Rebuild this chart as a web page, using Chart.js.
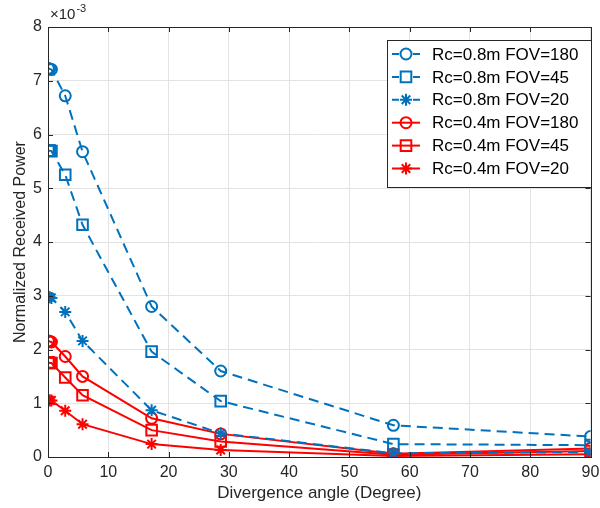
<!DOCTYPE html>
<html>
<head>
<meta charset="utf-8">
<script src="https://cdn.jsdelivr.net/npm/chart.js@4"></script>
<style>
  html, body { margin: 0; padding: 0; background: #fff; }
  #wrap { width: 600px; height: 508px; position: relative; }
</style>
</head>
<body>
<div id="wrap"><canvas id="chart" width="600" height="508"></canvas></div>
<script>
// Data (values in units of 1e-3)
const angles = [0.06, 0.29, 0.57, 2.86, 5.73, 17.19, 28.65, 57.3, 90];
const seriesNames = ['Rc=0.8m FOV=180', 'Rc=0.8m FOV=45', 'Rc=0.8m FOV=20',
                     'Rc=0.4m FOV=180', 'Rc=0.4m FOV=45', 'Rc=0.4m FOV=20'];
const rc08fov180 = [7.23, 7.22, 7.21, 6.72, 5.68, 2.80, 1.60, 0.59, 0.38];
const rc08fov45  = [5.70, 5.70, 5.69, 5.25, 4.32, 1.96, 1.04, 0.24, 0.22];
const rc08fov20  = [2.98, 2.97, 2.96, 2.70, 2.16, 0.87, 0.44, 0.07, 0.09];
const rc04fov180 = [2.16, 2.15, 2.14, 1.87, 1.50, 0.72, 0.43, 0.06, 0.16];
const rc04fov45  = [1.76, 1.75, 1.75, 1.48, 1.15, 0.50, 0.29, 0.04, 0.11];
const rc04fov20  = [1.06, 1.05, 1.05, 0.86, 0.61, 0.24, 0.13, 0.02, 0.05];
const xTicks = [0, 10, 20, 30, 40, 50, 60, 70, 80, 90];
const yTicks = [0, 1, 2, 3, 4, 5, 6, 7, 8];
const exponent = '-3';

const BLUE = '#0072BD', RED = '#FF0000';
const FONT = '"Liberation Sans", Arial, Helvetica, sans-serif';
const sizes = { circle: 5.5, rect: 7.5, star: 6 };

function ds(label, vals, color, marker, dashed){
  return {
    label,
    data: vals.map((v, i) => ({x: angles[i], y: v})),
    borderColor: color,
    backgroundColor: 'rgba(0,0,0,0)',
    borderWidth: 2,
    borderDash: dashed ? [10, 6] : [],
    pointStyle: marker,
    pointRadius: sizes[marker],
    pointBorderWidth: 2,
    pointBorderColor: color,
    pointBackgroundColor: 'rgba(0,0,0,0)',
    tension: 0
  };
}

const datasets = [
  ds(seriesNames[0], rc08fov180, BLUE, 'circle', true),
  ds(seriesNames[1], rc08fov45,  BLUE, 'rect',   true),
  ds(seriesNames[2], rc08fov20,  BLUE, 'star',   true),
  ds(seriesNames[3], rc04fov180, RED,  'circle', false),
  ds(seriesNames[4], rc04fov45,  RED,  'rect',   false),
  ds(seriesNames[5], rc04fov20,  RED,  'star',   false)
];

// box, inner ticks, exponent and legend in MATLAB style
const matlabStyle = {
  id: 'matlabStyle',
  afterDatasetsDraw(chart){
    const {ctx, chartArea: a, scales: {x, y}} = chart;
    ctx.save();
    ctx.strokeStyle = '#262626';
    ctx.lineWidth = 1;
    ctx.beginPath();
    xTicks.forEach(t => {
      const px = Math.round(x.getPixelForValue(t)) + 0.5;
      ctx.moveTo(px, a.bottom); ctx.lineTo(px, a.bottom - 5);
      ctx.moveTo(px, a.top); ctx.lineTo(px, a.top + 5);
    });
    yTicks.forEach(t => {
      const py = Math.round(y.getPixelForValue(t)) + 0.5;
      ctx.moveTo(a.left, py); ctx.lineTo(a.left + 5, py);
      ctx.moveTo(a.right, py); ctx.lineTo(a.right - 5, py);
    });
    ctx.stroke();
    ctx.strokeRect(Math.round(a.left) + 0.5, Math.round(a.top) + 0.5,
                   Math.round(a.right - a.left), Math.round(a.bottom - a.top));

    // x10^-3
    ctx.fillStyle = '#262626';
    ctx.textBaseline = 'alphabetic';
    ctx.textAlign = 'left';
    ctx.font = '15px ' + FONT;
    ctx.fillText('\u00d710', a.left + 2, a.top - 8);
    const w = ctx.measureText('\u00d710').width;
    ctx.font = '11px ' + FONT;
    ctx.fillText(exponent, a.left + 3 + w, a.top - 15);

    // legend
    const lx = 387, ly = 40, lw = 204, lh = 147, row = 22.9;
    ctx.fillStyle = '#fff';
    ctx.fillRect(lx, ly, lw, lh);
    ctx.strokeStyle = '#262626';
    ctx.strokeRect(lx + 0.5, ly + 0.5, lw, lh);
    ctx.font = '17px ' + FONT;
    ctx.textBaseline = 'middle';
    chart.data.datasets.forEach((d, i) => {
      const cy = ly + 14 + i * row;
      ctx.strokeStyle = d.borderColor;
      ctx.lineWidth = 2;
      ctx.beginPath();
      if (d.borderDash.length) {
        ctx.moveTo(392, cy); ctx.lineTo(399, cy);
        ctx.moveTo(413, cy); ctx.lineTo(420, cy);
      } else {
        ctx.moveTo(392, cy); ctx.lineTo(420, cy);
      }
      ctx.stroke();
      ctx.fillStyle = 'rgba(0,0,0,0)';
      Chart.helpers.drawPoint(ctx, {pointStyle: d.pointStyle, radius: d.pointRadius, borderWidth: 2}, 406, cy);
      ctx.fillStyle = '#000';
      ctx.fillText(d.label, 432, cy + 1);
    });
    ctx.restore();
  }
};

new Chart(document.getElementById('chart'), {
  type: 'line',
  data: { datasets },
  plugins: [matlabStyle],
  options: {
    responsive: false,
    animation: false,
    layout: { padding: { top: 27, right: 7, left: 0, bottom: 0 } },
    plugins: { legend: { display: false }, tooltip: { enabled: false } },
    scales: {
      x: {
        type: 'linear', min: 0, max: 90,
        afterBuildTicks: s => { s.ticks = xTicks.map(v => ({value: v})); },
        afterFit: s => { s.height = 51; s.paddingLeft = 0; s.paddingRight = 0; },
        grid: { color: '#e3e3e3', drawTicks: false },
        border: { display: false },
        ticks: { color: '#262626', font: { family: FONT, size: 16 }, padding: 6, maxRotation: 0 },
        title: { display: true, text: 'Divergence angle (Degree)', color: '#262626',
                 font: { family: FONT, size: 17 }, padding: { top: 2 } }
      },
      y: {
        type: 'linear', min: 0, max: 8,
        afterBuildTicks: s => { s.ticks = yTicks.map(v => ({value: v})); },
        afterFit: s => { s.width = 48; },
        grid: { color: '#e3e3e3', drawTicks: false },
        border: { display: false },
        ticks: { color: '#262626', font: { family: FONT, size: 16 }, padding: 6 },
        title: { display: true, text: 'Normalized Received Power', color: '#262626',
                 font: { family: FONT, size: 16 }, padding: { top: 11, bottom: 0 } }
      }
    }
  }
});
</script>
</body>
</html>
